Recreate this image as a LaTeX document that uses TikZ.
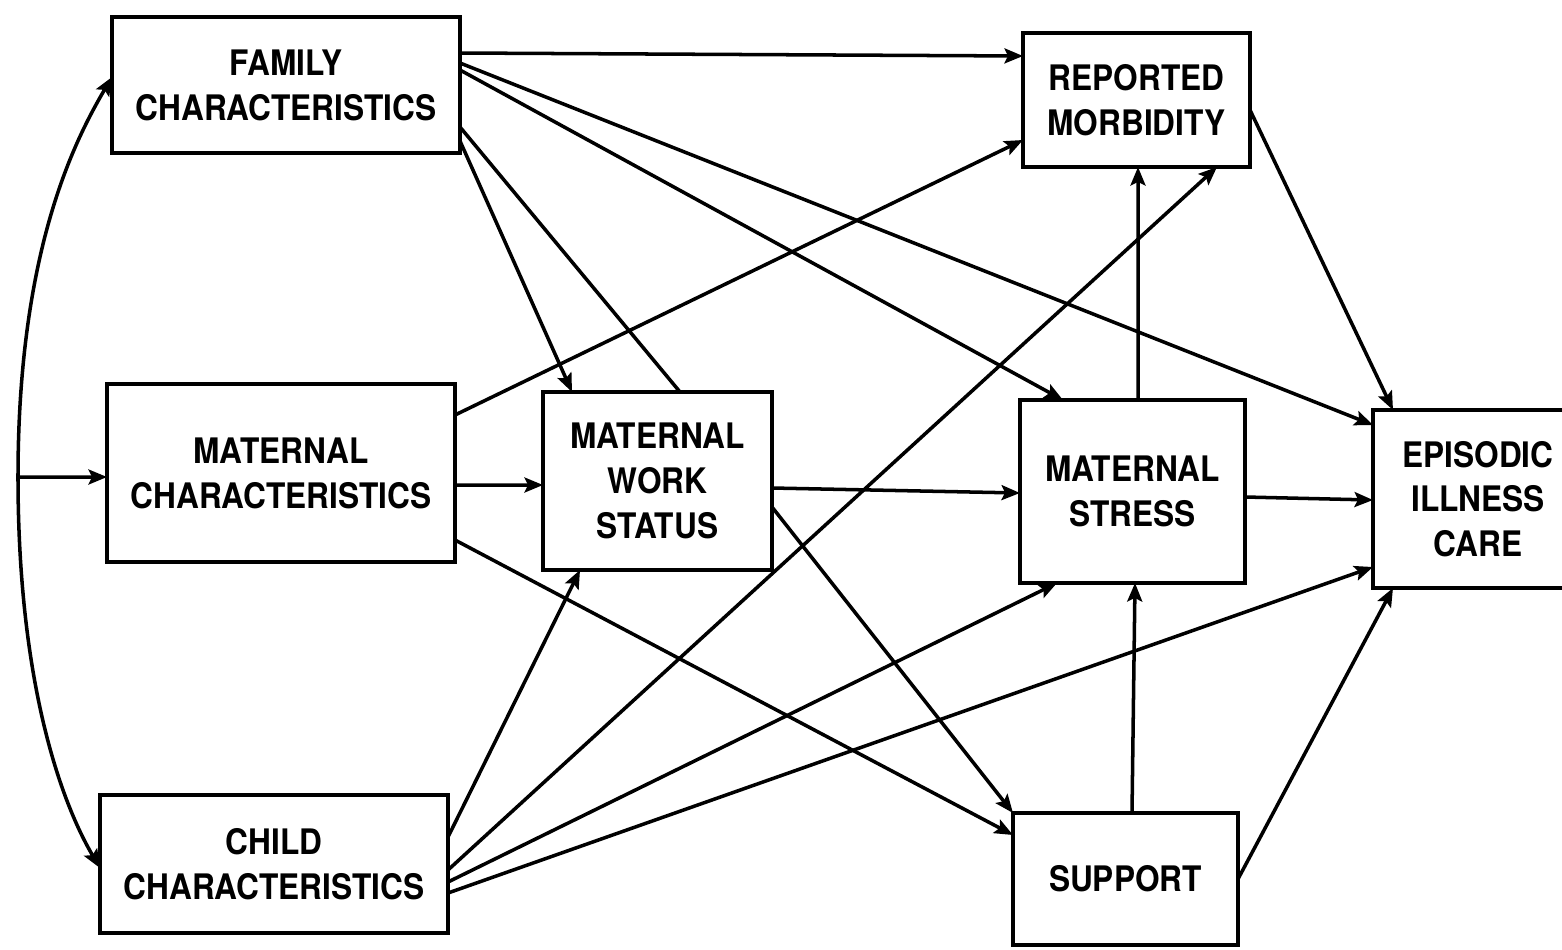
\documentclass[tikz,border=0pt]{standalone}
\usepackage{fontspec}
\setmainfont{TeX Gyre Heros}[FakeStretch=0.9]
\usetikzlibrary{arrows.meta}

\begin{document}
\begin{tikzpicture}[x=0.2cm, y=0.2cm,
    box/.style={draw=black, line width=2.8pt, align=center,
      font=\fontsize{20}{25.5}\selectfont\bfseries},
    link/.style={draw=black, line width=2pt, -{Stealth[length=10.5pt,width=8.5pt,inset=2pt]}}]
    \tikzstyle{every node}+=[inner sep=0pt, outer sep=0pt]
    \useasboundingbox (0,0) rectangle (156.2,-94.9);
    \clip (0,0) rectangle (156.2,-94.9);
    \node [box, minimum width=6.96cm, minimum height=2.72cm] (family) at (28.6,-8.5) {FAMILY\\CHARACTERISTICS};
    \node [box, minimum width=6.96cm, minimum height=3.56cm] (maternal) at (28.1,-47.3) {MATERNAL\\CHARACTERISTICS};
    \node [box, minimum width=6.96cm, minimum height=2.76cm] (child) at (27.4,-86.4) {CHILD\\CHARACTERISTICS};
    \node [box, minimum width=4.58cm, minimum height=3.56cm] (work) at (65.75,-48.1) {MATERNAL\\WORK\\STATUS};
    \node [box, minimum width=4.54cm, minimum height=2.68cm] (morbidity) at (113.65,-10) {REPORTED\\MORBIDITY};
    \node [box, minimum width=4.5cm, minimum height=3.66cm] (stress) at (113.25,-49.15) {MATERNAL\\STRESS};
    \node [box, minimum width=4.5cm, minimum height=2.64cm] (support) at (112.55,-87.9) {SUPPORT};
    \node [box, minimum width=4.2cm, minimum height=3.56cm] (care) at (147.8,-49.9) {EPISODIC\\ILLNESS\\CARE};
    \coordinate (split) at (1.8,-47.7);
    \draw [link] (split) -- ([yshift=-0.08cm]maternal.west);
    \draw [link] (split) .. controls (1.8,-25) and (7.5,-14) .. ([yshift=0.16cm]family.west);
    \draw [link] (split) .. controls (1.8,-68) and (6,-80) .. ([yshift=-0.08cm]child.west);
    \draw [link] ([yshift=0.64cm]family.east) -- ([yshift=0.88cm]morbidity.west);
    \draw [link] ([yshift=0.44cm]family.east) -- ([yshift=1.48cm]care.west);
    \draw [link] ([yshift=0.3cm]family.east) -- ([xshift=-1.39cm]stress.north);
    \draw [line width=2pt] ([yshift=-0.84cm]family.east) -- ([xshift=0.45cm]work.north);
    \draw [link] ([yshift=-1.12cm]family.east) -- ([xshift=-1.71cm]work.north);
    \draw [link] ([yshift=1.16cm]maternal.east) -- ([yshift=-0.8cm]morbidity.west);
    \draw [link] ([yshift=-0.24cm]maternal.east) -- ([yshift=-0.08cm]work.west);
    \draw [link] ([yshift=-1.34cm]maternal.east) -- ([yshift=0.88cm]support.west);
    \draw [link] ([yshift=-0.14cm]work.east) -- ([yshift=-0.03cm]stress.west);
    \draw [link] ([yshift=-0.52cm]work.east) -- (support.north west);
    \draw [link] ([yshift=0.54cm]child.east) -- ([xshift=-1.55cm]work.south);
    \draw [link] ([yshift=-0.12cm]child.east) -- ([xshift=1.61cm]morbidity.south);
    \draw [link] ([yshift=-0.36cm]child.east) -- ([xshift=-1.51cm]stress.south);
    \draw [link] ([yshift=-0.58cm]child.east) -- ([yshift=-1.36cm]care.west);
    \draw [link] ([xshift=0.11cm]stress.north) -- ([xshift=0.03cm]morbidity.south);
    \draw [link] ([xshift=0.13cm]support.north) -- ([xshift=0.05cm]stress.south);
    \draw [link] ([yshift=-0.11cm]stress.east) -- ([yshift=-0.02cm]care.west);
    \draw [link] (support.east) -- ([xshift=-1.7cm]care.south);
    \draw [link] ([yshift=-0.2cm]morbidity.east) -- ([xshift=-1.7cm]care.north);
\end{tikzpicture}
\end{document}
